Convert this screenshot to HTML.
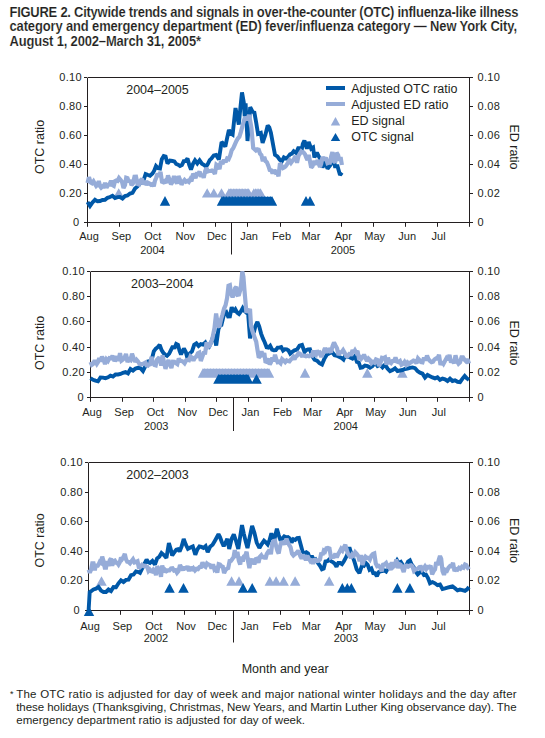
<!DOCTYPE html>
<html><head><meta charset="utf-8"><title>Figure 2</title>
<style>
html,body{margin:0;padding:0;background:#fff;}
body{width:545px;height:738px;position:relative;overflow:hidden;font-family:"Liberation Sans",sans-serif;}
</style></head><body>
<svg width="545" height="738" viewBox="0 0 545 738" style="position:absolute;left:0;top:0">
<path d="M87.5,77.5 H469.5 M87.5,77.5 V222.5 H469.5 M469.5,77.5 V222.5" stroke="#231f20" stroke-width="1" fill="none" shape-rendering="crispEdges"/>
<path d="M84.0,77.5 H87.5 M469.5,77.5 H473.0" stroke="#231f20" stroke-width="1"/>
<path d="M84.0,106.5 H87.5 M469.5,106.5 H473.0" stroke="#231f20" stroke-width="1"/>
<path d="M84.0,135.5 H87.5 M469.5,135.5 H473.0" stroke="#231f20" stroke-width="1"/>
<path d="M84.0,164.5 H87.5 M469.5,164.5 H473.0" stroke="#231f20" stroke-width="1"/>
<path d="M84.0,193.5 H87.5 M469.5,193.5 H473.0" stroke="#231f20" stroke-width="1"/>
<path d="M84.0,222.5 H87.5 M469.5,222.5 H473.0" stroke="#231f20" stroke-width="1"/>
<path d="M87.5,222.5 V226.8" stroke="#231f20" stroke-width="1"/>
<path d="M119.5,222.5 V226.8" stroke="#231f20" stroke-width="1"/>
<path d="M151.5,222.5 V226.8" stroke="#231f20" stroke-width="1"/>
<path d="M183.5,222.5 V226.8" stroke="#231f20" stroke-width="1"/>
<path d="M215.5,222.5 V226.8" stroke="#231f20" stroke-width="1"/>
<path d="M247.5,222.5 V226.8" stroke="#231f20" stroke-width="1"/>
<path d="M280.5,222.5 V226.8" stroke="#231f20" stroke-width="1"/>
<path d="M309.5,222.5 V226.8" stroke="#231f20" stroke-width="1"/>
<path d="M341.5,222.5 V226.8" stroke="#231f20" stroke-width="1"/>
<path d="M373.5,222.5 V226.8" stroke="#231f20" stroke-width="1"/>
<path d="M405.5,222.5 V226.8" stroke="#231f20" stroke-width="1"/>
<path d="M437.5,222.5 V226.8" stroke="#231f20" stroke-width="1"/>
<path d="M469.5,222.5 V226.8" stroke="#231f20" stroke-width="1"/>
<path d="M231.5,222.5 V254.5" stroke="#231f20" stroke-width="1"/>
<path d="M113.5,197.4 L118.7,188.2 L124.0,197.4 Z M201.9,197.4 L207.2,188.2 L212.4,197.4 Z M208.6,197.4 L213.8,188.2 L219.1,197.4 Z M216.2,197.4 L221.5,188.2 L226.8,197.4 Z M223.7,197.4 L228.9,188.2 L234.2,197.4 Z M225.2,197.4 L230.4,188.2 L235.7,197.4 Z M226.7,197.4 L231.9,188.2 L237.2,197.4 Z M228.2,197.4 L233.5,188.2 L238.7,197.4 Z M229.7,197.4 L235.0,188.2 L240.2,197.4 Z M231.3,197.4 L236.5,188.2 L241.8,197.4 Z M232.8,197.4 L238.0,188.2 L243.3,197.4 Z M234.3,197.4 L239.6,188.2 L244.8,197.4 Z M235.8,197.4 L241.1,188.2 L246.3,197.4 Z M237.4,197.4 L242.6,188.2 L247.9,197.4 Z M238.9,197.4 L244.1,188.2 L249.4,197.4 Z M240.4,197.4 L245.7,188.2 L250.9,197.4 Z M241.9,197.4 L247.2,188.2 L252.4,197.4 Z M243.4,197.4 L248.7,188.2 L253.9,197.4 Z M248.6,197.4 L253.8,188.2 L259.1,197.4 Z M250.2,197.4 L255.5,188.2 L260.7,197.4 Z M251.9,197.4 L257.1,188.2 L262.4,197.4 Z M253.6,197.4 L258.8,188.2 L264.1,197.4 Z M255.2,197.4 L260.5,188.2 L265.8,197.4 Z" fill="#96acd8"/>
<path d="M159.8,205.8 L165.0,196.0 L170.2,205.8 Z M216.8,205.8 L222.0,196.0 L227.2,205.8 Z M218.3,205.8 L223.5,196.0 L228.8,205.8 Z M219.8,205.8 L225.0,196.0 L230.3,205.8 Z M221.3,205.8 L226.5,196.0 L231.8,205.8 Z M222.8,205.8 L228.1,196.0 L233.3,205.8 Z M224.3,205.8 L229.6,196.0 L234.8,205.8 Z M225.8,205.8 L231.1,196.0 L236.3,205.8 Z M227.4,205.8 L232.6,196.0 L237.9,205.8 Z M228.9,205.8 L234.1,196.0 L239.4,205.8 Z M230.4,205.8 L235.6,196.0 L240.9,205.8 Z M231.9,205.8 L237.2,196.0 L242.4,205.8 Z M233.4,205.8 L238.7,196.0 L243.9,205.8 Z M234.9,205.8 L240.2,196.0 L245.4,205.8 Z M236.4,205.8 L241.7,196.0 L246.9,205.8 Z M238.0,205.8 L243.2,196.0 L248.5,205.8 Z M239.5,205.8 L244.7,196.0 L250.0,205.8 Z M241.0,205.8 L246.2,196.0 L251.5,205.8 Z M242.5,205.8 L247.8,196.0 L253.0,205.8 Z M244.0,205.8 L249.3,196.0 L254.5,205.8 Z M245.5,205.8 L250.8,196.0 L256.0,205.8 Z M247.1,205.8 L252.3,196.0 L257.6,205.8 Z M248.6,205.8 L253.8,196.0 L259.1,205.8 Z M250.1,205.8 L255.3,196.0 L260.6,205.8 Z M251.6,205.8 L256.8,196.0 L262.1,205.8 Z M253.1,205.8 L258.4,196.0 L263.6,205.8 Z M254.6,205.8 L259.9,196.0 L265.1,205.8 Z M256.1,205.8 L261.4,196.0 L266.6,205.8 Z M257.7,205.8 L262.9,196.0 L268.2,205.8 Z M259.2,205.8 L264.4,196.0 L269.7,205.8 Z M260.7,205.8 L265.9,196.0 L271.2,205.8 Z M262.2,205.8 L267.5,196.0 L272.7,205.8 Z M263.7,205.8 L269.0,196.0 L274.2,205.8 Z M265.2,205.8 L270.5,196.0 L275.7,205.8 Z M266.8,205.8 L272.0,196.0 L277.2,205.8 Z M300.8,205.8 L306.0,196.0 L311.2,205.8 Z M304.8,205.8 L310.0,196.0 L315.2,205.8 Z" fill="#0058a8"/>

<path d="M87.5,202.0 L90.0,206.0 L92.5,202.4 L95.0,199.8 L97.5,201.3 L100.0,201.0 L102.5,200.0 L105.0,199.8 L107.5,197.8 L110.0,197.0 L112.5,195.8 L115.0,198.0 L117.5,197.1 L120.0,197.0 L122.5,198.5 L125.0,196.0 L127.5,195.5 L130.0,193.5 L132.5,192.9 L135.0,188.5 L137.5,186.4 L140.0,183.5 L141.9,182.0 L143.8,179.5 L145.6,174.0 L147.5,174.8 L150.0,175.7 L152.5,173.5 L154.2,170.7 L156.0,166.0 L158.0,168.1 L160.0,168.5 L161.8,159.2 L163.7,156.0 L165.6,156.6 L167.5,163.5 L170.0,160.6 L172.5,161.0 L174.4,161.4 L176.2,164.0 L178.1,164.7 L180.0,166.0 L181.9,165.1 L183.8,161.1 L185.6,160.9 L187.5,158.5 L189.2,164.8 L191.0,169.6 L193.0,163.8 L195.0,160.4 L197.3,163.5 L199.6,160.4 L201.9,163.7 L204.2,165.0 L206.0,166.7 L207.8,164.0 L209.7,160.1 L211.5,158.5 L213.8,155.4 L216.1,154.9 L218.9,159.4 L221.6,142.0 L223.4,143.7 L225.3,146.6 L227.1,138.1 L228.9,130.0 L230.8,133.5 L232.6,134.7 L235.5,108.0 L237.2,116.7 L238.8,124.5 L240.4,107.6 L242.0,92.4 L243.8,102.5 L244.7,116.3 L245.6,103.4 L247.5,141.0 L250.2,107.1 L252.5,111.7 L254.4,112.6 L256.2,122.7 L258.0,133.8 L260.8,132.8 L262.6,142.9 L265.4,134.7 L267.7,125.5 L269.3,127.4 L270.9,132.8 L273.6,147.5 L275.0,154.9 L277.4,156.4 L279.7,159.7 L281.8,161.5 L283.9,157.4 L286.0,158.5 L288.0,156.9 L290.0,154.4 L291.9,153.6 L293.7,151.2 L296.2,153.0 L298.7,146.9 L301.2,152.5 L302.8,143.9 L304.4,140.6 L306.9,148.7 L308.7,141.9 L311.2,148.7 L313.1,147.5 L314.4,157.5 L316.9,152.5 L318.4,155.7 L320.0,158.7 L322.5,167.5 L325.0,161.2 L327.5,168.7 L330.0,165.6 L331.6,163.3 L333.1,156.2 L335.0,166.2 L337.5,166.2 L340.0,175.0 L341.9,172.5" stroke="#0058a8" stroke-width="3.9" fill="none" stroke-linejoin="miter" stroke-miterlimit="2"/>
<path d="M87.5,183.0 L89.0,177.2 L90.5,182.4 L92.0,183.3 L93.5,181.3 L95.0,184.0 L96.2,186.0 L97.5,184.8 L98.8,181.1 L100.0,186.0 L101.2,187.7 L102.5,186.5 L103.8,186.6 L105.0,183.0 L106.5,187.7 L108.0,184.9 L109.5,184.6 L111.0,180.7 L112.5,185.0 L113.8,185.8 L115.0,181.2 L116.2,180.6 L117.5,181.0 L119.0,178.0 L120.5,179.7 L122.0,181.8 L123.5,188.1 L125.0,185.0 L126.2,177.7 L127.5,178.1 L128.8,182.0 L130.0,180.0 L131.5,185.1 L133.0,183.3 L134.5,176.7 L136.0,176.6 L137.5,184.0 L139.0,184.5 L140.5,180.6 L142.0,178.8 L143.5,184.5 L145.0,181.0 L146.5,184.9 L148.0,182.7 L149.5,183.5 L151.0,184.7 L152.5,184.0 L153.8,186.2 L155.0,180.6 L156.2,177.7 L157.5,173.5 L159.0,176.6 L160.5,171.8 L162.0,181.8 L163.5,182.4 L165.0,181.0 L166.5,182.8 L168.0,175.5 L169.5,179.7 L171.0,184.3 L172.5,182.0 L174.0,176.1 L175.5,180.5 L177.0,183.6 L178.5,176.1 L180.0,179.6 L181.5,184.7 L183.0,181.8 L184.5,180.0 L186.0,181.7 L187.5,181.0 L188.8,181.9 L190.2,179.4 L191.5,181.4 L192.8,175.0 L194.1,174.8 L195.5,178.1 L196.8,174.0 L198.2,174.1 L199.6,171.4 L200.9,176.8 L202.3,174.0 L203.7,177.7 L205.1,171.4 L206.4,167.9 L207.8,171.4 L209.2,171.0 L210.6,171.0 L211.9,170.5 L213.3,171.4 L214.9,173.8 L216.4,164.7 L218.0,165.9 L219.5,169.0 L221.0,160.8 L222.5,164.0 L224.0,159.8 L225.6,162.2 L227.1,158.5 L228.6,159.2 L230.2,155.6 L231.7,150.3 L233.2,148.3 L234.8,144.6 L236.3,141.1 L237.8,138.5 L239.4,136.7 L240.9,131.9 L243.0,124.0 L245.0,117.0 L247.0,120.0 L249.0,115.0 L250.2,120.8 L251.4,127.7 L253.2,147.9 L254.6,149.2 L255.9,150.5 L257.3,149.3 L258.7,149.7 L260.1,153.8 L261.4,155.0 L262.8,161.2 L264.2,157.0 L265.6,161.2 L266.9,162.2 L268.3,165.6 L269.7,170.0 L271.2,170.3 L272.6,173.5 L274.1,170.0 L275.5,172.5 L277.0,171.7 L278.5,176.3 L280.0,163.2 L281.5,165.6 L283.0,168.0 L284.2,167.4 L285.5,166.5 L286.8,164.7 L288.0,162.6 L289.5,160.4 L291.0,162.8 L292.5,160.7 L294.0,159.0 L295.5,156.0 L297.0,162.8 L298.5,155.9 L300.0,153.4 L301.2,151.4 L302.5,152.5 L303.7,152.5 L305.0,154.3 L306.2,157.3 L307.5,160.0 L308.8,155.0 L310.0,161.6 L311.2,167.7 L312.5,166.2 L313.8,161.1 L315.0,162.9 L316.2,164.4 L317.5,160.0 L318.7,163.8 L320.0,166.9 L321.2,163.7 L322.5,156.9 L323.7,159.3 L325.0,158.7 L326.2,158.9 L327.5,163.1 L328.7,162.5 L329.9,162.6 L331.2,156.2 L332.4,152.1 L333.7,161.2 L335.2,162.4 L336.6,152.7 L338.1,155.0 L339.4,160.4 L340.6,157.2 L341.9,165.0" stroke="#96acd8" stroke-width="4.2" fill="none" stroke-linejoin="miter" stroke-miterlimit="2"/>
<path d="M90.5,271.5 H469.5 M90.5,271.5 V397.5 H469.5 M469.5,271.5 V397.5" stroke="#231f20" stroke-width="1" fill="none" shape-rendering="crispEdges"/>
<path d="M87.0,271.5 H90.5 M469.5,271.5 H473.0" stroke="#231f20" stroke-width="1"/>
<path d="M87.0,296.5 H90.5 M469.5,296.5 H473.0" stroke="#231f20" stroke-width="1"/>
<path d="M87.0,321.5 H90.5 M469.5,321.5 H473.0" stroke="#231f20" stroke-width="1"/>
<path d="M87.0,347.5 H90.5 M469.5,347.5 H473.0" stroke="#231f20" stroke-width="1"/>
<path d="M87.0,372.5 H90.5 M469.5,372.5 H473.0" stroke="#231f20" stroke-width="1"/>
<path d="M87.0,397.5 H90.5 M469.5,397.5 H473.0" stroke="#231f20" stroke-width="1"/>
<path d="M90.5,397.5 V401.8" stroke="#231f20" stroke-width="1"/>
<path d="M122.5,397.5 V401.8" stroke="#231f20" stroke-width="1"/>
<path d="M153.5,397.5 V401.8" stroke="#231f20" stroke-width="1"/>
<path d="M185.5,397.5 V401.8" stroke="#231f20" stroke-width="1"/>
<path d="M216.5,397.5 V401.8" stroke="#231f20" stroke-width="1"/>
<path d="M248.5,397.5 V401.8" stroke="#231f20" stroke-width="1"/>
<path d="M281.5,397.5 V401.8" stroke="#231f20" stroke-width="1"/>
<path d="M311.5,397.5 V401.8" stroke="#231f20" stroke-width="1"/>
<path d="M343.5,397.5 V401.8" stroke="#231f20" stroke-width="1"/>
<path d="M374.5,397.5 V401.8" stroke="#231f20" stroke-width="1"/>
<path d="M406.5,397.5 V401.8" stroke="#231f20" stroke-width="1"/>
<path d="M437.5,397.5 V401.8" stroke="#231f20" stroke-width="1"/>
<path d="M469.5,397.5 V401.8" stroke="#231f20" stroke-width="1"/>
<path d="M233.5,397.5 V431.0" stroke="#231f20" stroke-width="1"/>
<path d="M197.8,377.7 L203.0,368.0 L208.2,377.7 Z M199.2,377.7 L204.5,368.0 L209.8,377.7 Z M200.8,377.7 L206.0,368.0 L211.2,377.7 Z M202.2,377.7 L207.5,368.0 L212.8,377.7 Z M203.8,377.7 L209.0,368.0 L214.2,377.7 Z M205.2,377.7 L210.5,368.0 L215.8,377.7 Z M206.8,377.7 L212.0,368.0 L217.2,377.7 Z M208.2,377.7 L213.5,368.0 L218.8,377.7 Z M209.8,377.7 L215.0,368.0 L220.2,377.7 Z M211.2,377.7 L216.5,368.0 L221.8,377.7 Z M212.8,377.7 L218.0,368.0 L223.2,377.7 Z M214.2,377.7 L219.5,368.0 L224.8,377.7 Z M215.8,377.7 L221.0,368.0 L226.2,377.7 Z M217.2,377.7 L222.5,368.0 L227.8,377.7 Z M218.8,377.7 L224.0,368.0 L229.2,377.7 Z M220.2,377.7 L225.5,368.0 L230.8,377.7 Z M221.8,377.7 L227.0,368.0 L232.2,377.7 Z M223.2,377.7 L228.5,368.0 L233.8,377.7 Z M224.8,377.7 L230.0,368.0 L235.2,377.7 Z M226.2,377.7 L231.5,368.0 L236.8,377.7 Z M227.8,377.7 L233.0,368.0 L238.2,377.7 Z M229.2,377.7 L234.5,368.0 L239.8,377.7 Z M230.8,377.7 L236.0,368.0 L241.2,377.7 Z M232.2,377.7 L237.5,368.0 L242.8,377.7 Z M233.8,377.7 L239.0,368.0 L244.2,377.7 Z M235.2,377.7 L240.5,368.0 L245.8,377.7 Z M236.8,377.7 L242.0,368.0 L247.2,377.7 Z M238.2,377.7 L243.5,368.0 L248.8,377.7 Z M239.8,377.7 L245.0,368.0 L250.2,377.7 Z M241.2,377.7 L246.5,368.0 L251.8,377.7 Z M242.8,377.7 L248.0,368.0 L253.2,377.7 Z M244.2,377.7 L249.5,368.0 L254.8,377.7 Z M245.8,377.7 L251.0,368.0 L256.2,377.7 Z M247.2,377.7 L252.5,368.0 L257.8,377.7 Z M248.8,377.7 L254.0,368.0 L259.2,377.7 Z M250.2,377.7 L255.5,368.0 L260.8,377.7 Z M251.8,377.7 L257.0,368.0 L262.2,377.7 Z M253.2,377.7 L258.5,368.0 L263.8,377.7 Z M254.8,377.7 L260.0,368.0 L265.2,377.7 Z M256.2,377.7 L261.5,368.0 L266.8,377.7 Z M257.8,377.7 L263.0,368.0 L268.2,377.7 Z M259.2,377.7 L264.5,368.0 L269.8,377.7 Z M260.8,377.7 L266.0,368.0 L271.2,377.7 Z M262.2,377.7 L267.5,368.0 L272.8,377.7 Z M263.8,377.7 L269.0,368.0 L274.2,377.7 Z M299.8,377.7 L305.0,368.0 L310.2,377.7 Z M362.1,377.7 L367.3,368.0 L372.6,377.7 Z M397.1,377.7 L402.3,368.0 L407.6,377.7 Z" fill="#96acd8"/>
<path d="M213.2,383.7 L218.5,374.0 L223.8,383.7 Z M214.7,383.7 L220.0,374.0 L225.2,383.7 Z M216.2,383.7 L221.4,374.0 L226.7,383.7 Z M217.7,383.7 L222.9,374.0 L228.2,383.7 Z M219.2,383.7 L224.4,374.0 L229.7,383.7 Z M220.6,383.7 L225.9,374.0 L231.1,383.7 Z M222.1,383.7 L227.3,374.0 L232.6,383.7 Z M223.6,383.7 L228.8,374.0 L234.1,383.7 Z M225.1,383.7 L230.3,374.0 L235.6,383.7 Z M226.5,383.7 L231.8,374.0 L237.0,383.7 Z M228.0,383.7 L233.2,374.0 L238.5,383.7 Z M229.5,383.7 L234.7,374.0 L240.0,383.7 Z M230.9,383.7 L236.2,374.0 L241.4,383.7 Z M232.4,383.7 L237.7,374.0 L242.9,383.7 Z M233.9,383.7 L239.2,374.0 L244.4,383.7 Z M235.4,383.7 L240.6,374.0 L245.9,383.7 Z M236.8,383.7 L242.1,374.0 L247.3,383.7 Z M238.3,383.7 L243.6,374.0 L248.8,383.7 Z M239.8,383.7 L245.1,374.0 L250.3,383.7 Z M241.3,383.7 L246.5,374.0 L251.8,383.7 Z M242.8,383.7 L248.0,374.0 L253.2,383.7 Z M251.2,383.7 L256.5,374.0 L261.8,383.7 Z" fill="#0058a8"/>

<path d="M90.5,378.2 L93.0,379.8 L95.5,380.7 L98.0,381.3 L100.5,377.5 L103.0,377.6 L105.5,378.2 L108.0,377.3 L110.5,375.7 L113.0,376.5 L115.5,374.5 L118.0,374.5 L120.5,374.0 L123.0,372.8 L125.5,372.0 L128.0,373.3 L130.5,369.0 L133.0,370.6 L135.5,368.5 L138.0,367.8 L140.5,368.2 L143.0,371.1 L145.5,366.0 L148.0,361.4 L150.5,361.0 L152.2,357.8 L153.8,351.4 L155.8,348.7 L157.7,347.2 L159.7,344.8 L161.6,350.1 L163.4,352.9 L165.2,354.7 L167.0,355.8 L169.2,353.6 L171.4,349.2 L172.9,346.1 L174.4,348.5 L176.2,343.9 L178.0,344.8 L179.5,350.7 L181.0,354.4 L183.9,348.5 L185.8,351.9 L187.6,358.8 L189.8,353.3 L192.0,351.4 L194.2,344.8 L196.4,343.4 L198.6,346.0 L200.8,344.1 L203.0,344.7 L205.2,342.6 L206.7,346.3 L208.9,347.1 L211.1,342.6 L214.0,333.8 L216.2,345.6 L218.4,329.4 L219.9,325.5 L221.4,325.0 L222.9,318.9 L224.4,312.7 L226.2,311.9 L228.1,316.5 L229.9,316.4 L231.7,307.2 L233.5,311.9 L235.4,309.3 L237.2,312.7 L239.0,314.0 L240.9,311.4 L242.7,308.1 L244.5,310.9 L246.3,312.4 L248.2,314.5 L250.0,338.4 L251.8,330.7 L253.7,332.7 L255.5,325.9 L257.4,321.9 L259.2,326.3 L261.1,333.6 L262.9,338.4 L264.7,342.2 L266.6,347.2 L268.4,347.6 L270.2,345.8 L272.1,349.6 L273.9,350.3 L275.8,350.2 L277.6,347.6 L279.4,347.6 L281.2,347.0 L283.1,350.5 L284.9,349.2 L286.7,349.4 L288.5,350.5 L290.2,353.7 L292.0,352.0 L294.5,350.3 L297.0,349.5 L299.5,345.7 L302.0,344.9 L304.5,352.0 L306.2,350.1 L308.0,349.5 L310.0,349.3 L312.0,355.7 L314.5,359.7 L317.0,360.7 L319.5,363.2 L322.0,364.5 L324.5,358.4 L327.0,354.5 L329.5,353.2 L332.0,352.0 L334.5,355.3 L337.0,355.7 L339.5,357.1 L342.0,358.2 L343.5,359.5 L345.0,356.0 L347.5,356.6 L350.0,357.5 L352.5,358.6 L355.0,356.0 L356.9,361.9 L358.7,362.4 L360.6,367.8 L362.5,367.4 L365.0,365.5 L367.5,366.0 L370.0,367.6 L372.5,366.0 L375.0,362.6 L377.5,366.0 L380.0,364.7 L382.5,367.4 L385.0,364.5 L387.5,368.6 L390.0,371.2 L392.5,370.0 L395.0,368.3 L397.5,371.0 L400.0,370.5 L402.5,370.0 L405.0,369.0 L407.5,368.6 L410.0,367.9 L412.5,367.4 L415.0,368.1 L417.5,371.0 L420.0,372.7 L422.5,373.6 L425.0,377.5 L427.5,374.9 L430.0,376.2 L432.5,377.4 L435.0,378.4 L437.5,377.4 L440.0,379.8 L442.5,378.6 L445.0,379.4 L447.5,381.0 L450.0,378.7 L452.5,381.0 L455.0,380.4 L457.5,381.8 L460.0,382.1 L462.5,378.6 L464.7,376.0 L466.8,378.3 L469.0,379.8" stroke="#0058a8" stroke-width="3.9" fill="none" stroke-linejoin="miter" stroke-miterlimit="2"/>
<path d="M90.5,362.0 L91.8,364.9 L93.0,364.1 L94.2,361.6 L95.5,361.5 L96.8,363.9 L98.0,362.0 L99.2,358.0 L100.5,361.5 L102.0,356.7 L103.5,359.4 L105.0,364.0 L106.5,359.4 L108.0,361.0 L109.5,358.1 L111.0,358.3 L112.5,355.8 L114.0,359.8 L115.5,360.0 L117.0,356.4 L118.5,360.9 L120.0,353.1 L121.5,360.6 L123.0,359.5 L124.5,357.7 L126.0,353.9 L127.5,362.0 L129.0,359.1 L130.5,360.0 L132.0,353.7 L133.5,358.0 L135.0,361.8 L136.5,359.8 L138.0,361.5 L139.5,364.0 L141.0,364.1 L142.5,364.1 L144.0,363.3 L145.5,362.5 L147.0,366.6 L148.5,364.8 L150.0,364.3 L151.5,356.8 L153.0,363.2 L154.3,365.0 L155.7,365.4 L157.0,359.7 L158.4,358.3 L159.7,358.8 L161.2,365.5 L162.6,355.3 L164.1,362.8 L165.5,368.9 L167.0,363.2 L168.5,360.1 L170.0,364.7 L171.4,368.0 L172.9,361.6 L174.4,361.7 L175.9,363.2 L177.3,364.1 L178.8,358.6 L180.2,360.9 L181.7,361.0 L183.2,361.7 L184.6,363.2 L186.1,360.4 L187.5,359.8 L189.0,360.2 L190.5,356.4 L192.0,357.7 L193.4,360.7 L194.9,357.6 L196.4,356.6 L197.9,353.3 L199.3,352.6 L200.8,361.0 L202.2,357.1 L203.7,352.9 L205.2,352.8 L206.6,342.4 L208.1,347.0 L209.6,345.9 L211.0,342.6 L212.5,338.2 L214.5,328.0 L216.1,313.6 L217.9,325.6 L219.4,327.0 L221.0,319.5 L222.5,314.5 L224.0,308.8 L225.6,305.1 L227.1,298.0 L228.5,285.8 L229.9,285.2 L231.2,294.2 L232.6,297.1 L233.8,294.7 L235.1,288.3 L236.3,287.0 L237.7,294.7 L239.0,294.4 L240.7,288.4 L242.3,271.5 L243.4,276.9 L244.5,290.7 L246.4,312.7 L247.6,309.5 L248.8,311.1 L250.0,309.0 L251.0,325.6 L252.3,330.7 L253.7,334.7 L254.9,338.4 L256.2,341.6 L257.4,349.4 L258.8,357.6 L260.1,356.2 L261.5,351.3 L262.9,356.7 L264.3,353.1 L265.6,362.8 L267.0,361.1 L268.4,358.6 L269.7,364.6 L271.0,362.1 L272.3,357.5 L273.7,361.4 L275.0,354.7 L276.3,359.4 L277.6,362.2 L279.1,361.7 L280.6,363.2 L282.1,359.1 L283.7,360.6 L285.2,362.1 L286.7,360.4 L288.0,361.1 L289.4,361.4 L290.7,359.7 L292.0,358.6 L293.2,356.9 L294.5,359.5 L295.8,356.6 L297.0,355.7 L298.5,353.2 L300.0,353.8 L301.5,355.7 L303.0,355.4 L304.5,355.7 L306.0,356.2 L307.5,355.7 L309.0,356.2 L310.5,355.3 L312.0,355.7 L313.2,350.6 L314.5,354.4 L315.8,355.0 L317.0,350.5 L318.2,353.1 L319.5,352.5 L320.8,355.7 L322.0,355.7 L323.5,351.8 L325.0,347.9 L326.5,352.8 L328.0,348.7 L329.5,350.5 L331.0,352.3 L332.5,346.3 L334.0,342.5 L335.5,345.5 L337.0,348.2 L338.5,355.0 L340.0,352.4 L341.6,352.2 L343.1,350.1 L344.6,352.8 L346.2,356.0 L347.5,356.4 L348.7,355.1 L350.0,352.9 L351.2,355.7 L352.5,350.0 L353.8,352.4 L355.0,350.4 L356.2,352.5 L357.5,351.0 L358.8,357.6 L360.0,357.1 L361.2,358.9 L362.5,357.4 L364.0,354.7 L365.5,358.0 L367.0,361.1 L368.5,358.6 L370.0,360.0 L371.5,363.2 L373.0,361.8 L374.5,362.7 L376.0,359.4 L377.5,360.0 L379.0,366.1 L380.5,362.7 L382.0,357.8 L383.5,358.2 L385.0,357.4 L386.5,364.7 L388.0,357.8 L389.5,362.2 L391.0,363.2 L392.5,361.0 L394.0,361.0 L395.5,357.5 L397.0,361.6 L398.5,362.1 L400.0,361.0 L401.5,364.7 L403.0,363.9 L404.5,361.9 L406.0,364.7 L407.5,362.4 L409.0,363.7 L410.5,362.5 L412.0,361.7 L413.5,360.5 L415.0,361.0 L416.5,363.3 L418.0,358.4 L419.5,360.0 L421.0,362.1 L422.5,362.4 L424.0,357.7 L425.5,360.5 L427.0,355.5 L428.5,359.2 L430.0,361.0 L431.5,362.2 L433.0,361.7 L434.5,359.4 L436.0,358.4 L437.5,358.6 L439.0,354.8 L440.5,365.0 L442.0,361.6 L443.5,363.8 L445.0,361.0 L446.5,358.2 L448.0,360.0 L449.5,354.9 L451.0,362.5 L452.5,360.0 L454.0,363.3 L455.5,355.3 L457.0,361.3 L458.5,363.8 L460.0,362.4 L461.5,357.3 L463.0,357.3 L464.5,359.8 L466.0,361.3 L467.5,359.2 L469.0,363.6" stroke="#96acd8" stroke-width="4.2" fill="none" stroke-linejoin="miter" stroke-miterlimit="2"/>
<path d="M88.5,462.5 H469.5 M88.5,462.5 V610.5 H469.5 M469.5,462.5 V610.5" stroke="#231f20" stroke-width="1" fill="none" shape-rendering="crispEdges"/>
<path d="M85.0,462.5 H88.5 M469.5,462.5 H473.0" stroke="#231f20" stroke-width="1"/>
<path d="M85.0,492.5 H88.5 M469.5,492.5 H473.0" stroke="#231f20" stroke-width="1"/>
<path d="M85.0,521.5 H88.5 M469.5,521.5 H473.0" stroke="#231f20" stroke-width="1"/>
<path d="M85.0,551.5 H88.5 M469.5,551.5 H473.0" stroke="#231f20" stroke-width="1"/>
<path d="M85.0,580.5 H88.5 M469.5,580.5 H473.0" stroke="#231f20" stroke-width="1"/>
<path d="M85.0,610.5 H88.5 M469.5,610.5 H473.0" stroke="#231f20" stroke-width="1"/>
<path d="M88.5,610.5 V614.8" stroke="#231f20" stroke-width="1"/>
<path d="M120.5,610.5 V614.8" stroke="#231f20" stroke-width="1"/>
<path d="M152.5,610.5 V614.8" stroke="#231f20" stroke-width="1"/>
<path d="M184.5,610.5 V614.8" stroke="#231f20" stroke-width="1"/>
<path d="M215.5,610.5 V614.8" stroke="#231f20" stroke-width="1"/>
<path d="M248.5,610.5 V614.8" stroke="#231f20" stroke-width="1"/>
<path d="M280.5,610.5 V614.8" stroke="#231f20" stroke-width="1"/>
<path d="M309.5,610.5 V614.8" stroke="#231f20" stroke-width="1"/>
<path d="M342.5,610.5 V614.8" stroke="#231f20" stroke-width="1"/>
<path d="M373.5,610.5 V614.8" stroke="#231f20" stroke-width="1"/>
<path d="M405.5,610.5 V614.8" stroke="#231f20" stroke-width="1"/>
<path d="M437.5,610.5 V614.8" stroke="#231f20" stroke-width="1"/>
<path d="M469.5,610.5 V614.8" stroke="#231f20" stroke-width="1"/>
<path d="M233.5,610.5 V642.5" stroke="#231f20" stroke-width="1"/>
<path d="M96.2,585.8 L101.5,576.3 L106.8,585.8 Z M226.3,585.8 L231.6,576.3 L236.8,585.8 Z M233.8,585.8 L239.0,576.3 L244.2,585.8 Z M264.6,585.8 L269.8,576.3 L275.1,585.8 Z M270.9,585.8 L276.1,576.3 L281.4,585.8 Z M278.4,585.8 L283.6,576.3 L288.9,585.8 Z M289.9,585.8 L295.1,576.3 L300.4,585.8 Z M323.9,585.8 L329.2,576.3 L334.4,585.8 Z" fill="#96acd8"/>
<path d="M164.3,592.7 L169.6,583.0 L174.8,592.7 Z M178.2,592.7 L183.5,583.0 L188.8,592.7 Z M237.8,592.7 L243.1,583.0 L248.3,592.7 Z M246.9,592.7 L252.2,583.0 L257.4,592.7 Z M337.1,592.7 L342.3,583.0 L347.6,592.7 Z M342.1,592.7 L347.3,583.0 L352.6,592.7 Z M346.1,592.7 L351.4,583.0 L356.6,592.7 Z M392.1,592.7 L397.4,583.0 L402.6,592.7 Z M404.6,592.7 L409.9,583.0 L415.1,592.7 Z" fill="#0058a8"/>
<path d="M83.8,616.0 L89.0,606.5 L94.2,616.0 Z" fill="#0058a8"/>
<path d="M88.6,610.5 L89.7,592.0 L91.6,590.8 L93.5,589.5 L96.0,588.7 L98.5,587.0 L101.0,590.6 L103.5,592.0 L106.0,592.0 L108.5,589.5 L111.0,591.0 L113.5,587.0 L116.0,587.2 L118.5,583.3 L121.0,580.3 L123.5,582.0 L126.0,579.9 L128.5,579.6 L131.0,575.2 L133.5,574.6 L136.0,571.4 L138.5,572.0 L140.0,572.8 L142.2,568.3 L144.4,564.0 L146.6,559.6 L148.3,562.2 L150.0,563.0 L152.4,560.9 L154.9,564.6 L157.1,558.5 L159.3,556.8 L161.5,553.0 L163.9,555.1 L166.4,558.0 L168.9,543.1 L170.6,548.7 L172.2,555.5 L174.2,552.5 L176.3,549.7 L177.9,549.2 L179.6,551.4 L181.6,546.5 L183.7,539.0 L185.8,544.6 L187.9,548.9 L190.4,547.5 L192.8,546.4 L195.3,554.7 L197.4,549.3 L199.4,546.4 L201.4,546.9 L203.5,548.0 L205.6,546.1 L207.7,552.2 L210.1,546.7 L212.6,544.8 L214.8,541.0 L217.0,537.0 L218.5,534.3 L220.0,537.0 L221.8,542.0 L223.7,546.2 L225.5,542.8 L227.3,538.9 L229.2,549.0 L231.5,539.2 L233.8,534.3 L236.1,541.2 L238.3,549.0 L240.2,536.5 L242.0,525.1 L243.8,533.6 L245.7,541.5 L247.5,548.0 L249.8,536.9 L252.1,526.0 L254.4,532.7 L256.7,542.5 L259.4,548.0 L261.7,544.1 L264.0,540.7 L265.9,542.4 L267.7,544.4 L269.5,540.2 L271.4,533.3 L274.1,540.7 L276.9,528.8 L278.8,535.3 L280.6,540.7 L282.4,538.5 L284.2,536.4 L286.1,537.3 L287.9,537.0 L289.8,538.4 L291.6,542.5 L293.4,539.3 L295.2,540.0 L297.1,538.2 L298.9,537.9 L300.8,545.0 L302.6,551.7 L304.4,553.2 L306.3,552.2 L308.1,553.5 L309.9,558.8 L311.8,555.7 L313.6,559.6 L315.4,559.0 L317.7,562.6 L320.0,565.8 L321.9,569.2 L323.7,568.5 L325.5,561.5 L327.4,561.1 L329.2,559.4 L331.0,561.2 L332.8,562.1 L334.6,563.5 L336.5,566.7 L338.3,563.0 L340.2,563.0 L342.0,564.1 L343.9,561.2 L345.7,558.0 L347.6,553.7 L349.4,547.4 L351.2,553.4 L353.0,557.5 L354.9,563.2 L356.7,569.4 L359.4,573.1 L362.2,564.9 L364.0,565.8 L365.9,563.0 L367.7,564.9 L369.5,569.8 L371.4,568.5 L373.2,573.1 L375.0,573.2 L376.9,576.3 L378.7,572.2 L380.5,571.2 L382.4,571.0 L384.2,570.4 L386.1,571.6 L387.9,568.6 L389.8,566.2 L391.6,566.7 L393.4,565.0 L395.3,563.5 L397.1,560.3 L398.9,563.1 L400.8,562.0 L402.6,564.9 L404.4,566.9 L406.2,565.6 L408.1,561.5 L409.9,560.3 L411.7,564.5 L413.6,566.9 L415.4,571.3 L417.7,574.3 L420.0,572.2 L422.0,571.7 L424.0,575.0 L426.0,574.6 L428.0,578.1 L430.0,583.3 L432.5,582.1 L435.0,583.3 L437.5,585.2 L440.0,584.6 L442.5,588.9 L445.0,588.3 L447.5,587.6 L450.0,587.0 L452.5,586.4 L455.0,588.3 L457.5,590.4 L460.0,589.6 L462.5,590.1 L465.0,590.8 L467.0,589.5 L469.0,587.0" stroke="#0058a8" stroke-width="3.9" fill="none" stroke-linejoin="miter" stroke-miterlimit="2"/>
<path d="M88.6,569.6 L89.8,572.6 L91.0,569.9 L92.3,563.4 L93.5,563.4 L94.8,570.3 L96.0,564.0 L97.2,566.7 L98.5,564.6 L99.8,561.8 L101.0,562.7 L102.2,556.7 L103.5,561.0 L104.8,567.6 L106.0,567.6 L107.2,561.1 L108.5,566.0 L109.8,560.2 L111.0,558.6 L112.2,565.8 L113.5,561.0 L114.8,560.5 L116.0,562.6 L117.2,562.8 L118.5,564.6 L119.8,562.3 L121.0,557.5 L122.2,559.0 L123.5,557.0 L124.8,553.9 L126.0,559.3 L127.2,561.7 L128.5,562.0 L130.0,563.4 L131.5,561.3 L133.0,559.3 L134.5,562.5 L136.0,562.0 L137.5,561.3 L139.0,568.3 L140.5,566.7 L142.0,564.9 L143.5,566.0 L144.8,565.8 L146.0,566.4 L147.2,566.9 L148.5,571.0 L149.8,569.6 L151.0,571.2 L152.2,571.5 L153.5,569.6 L154.8,571.0 L156.0,575.3 L157.2,566.6 L158.5,568.4 L159.8,569.3 L161.0,576.8 L162.2,565.5 L163.5,572.0 L165.0,569.7 L166.5,571.1 L168.0,570.3 L169.5,570.3 L171.0,568.4 L172.5,568.2 L174.0,570.5 L175.5,570.1 L177.0,572.8 L178.5,571.0 L180.0,565.0 L181.5,567.8 L183.0,570.2 L184.5,566.8 L186.0,569.6 L187.5,566.2 L189.0,571.0 L190.5,566.9 L192.0,570.5 L193.5,568.4 L195.0,570.4 L196.5,568.8 L198.0,569.1 L199.5,567.0 L201.0,567.0 L202.5,562.3 L204.0,565.9 L205.5,566.9 L207.0,563.5 L208.5,564.6 L210.0,565.1 L211.5,568.4 L213.0,564.2 L214.5,569.6 L216.0,568.4 L217.3,572.7 L218.7,564.1 L220.0,564.5 L221.4,566.3 L222.8,566.8 L224.1,573.2 L225.5,570.0 L226.9,568.7 L228.2,568.1 L229.6,561.1 L231.0,560.9 L232.3,559.0 L233.6,557.2 L234.8,550.1 L236.1,557.9 L237.4,551.7 L238.8,560.8 L240.2,564.5 L241.5,556.7 L242.8,561.6 L244.0,556.4 L245.3,555.6 L246.6,551.7 L248.0,561.0 L249.4,568.2 L250.6,560.6 L251.8,561.4 L253.0,559.0 L254.4,564.4 L255.8,559.1 L257.1,558.7 L258.5,562.7 L259.9,556.8 L261.2,555.4 L262.6,558.2 L264.0,555.4 L265.4,559.1 L266.8,553.9 L268.1,552.0 L269.5,549.9 L270.9,554.2 L272.2,543.7 L273.6,541.0 L275.0,540.7 L276.2,546.6 L277.5,550.9 L278.7,553.5 L279.9,546.8 L281.2,542.7 L282.4,542.5 L283.8,543.4 L285.1,543.2 L286.5,538.6 L287.9,542.5 L289.3,545.1 L290.6,547.3 L292.0,553.6 L293.4,555.4 L294.8,554.1 L296.1,553.3 L297.5,551.6 L298.9,551.7 L300.3,556.2 L301.6,558.6 L303.0,554.7 L304.4,557.2 L305.9,560.1 L307.3,555.6 L308.8,558.5 L310.2,560.9 L311.7,559.0 L313.0,564.0 L314.4,558.9 L315.7,560.3 L317.0,561.0 L318.5,560.8 L320.0,559.4 L321.3,552.7 L322.6,555.0 L323.8,550.7 L325.1,551.6 L326.4,548.3 L327.9,548.0 L329.5,548.5 L331.0,557.5 L332.5,556.9 L333.9,556.8 L335.4,553.7 L336.8,557.3 L338.3,553.9 L339.7,551.5 L341.1,548.8 L342.5,550.5 L343.9,547.4 L345.3,544.8 L346.6,549.5 L348.0,553.6 L349.4,555.7 L350.9,557.9 L352.3,554.5 L353.8,555.5 L355.2,552.3 L356.7,553.9 L358.2,555.9 L359.6,561.1 L361.1,555.1 L362.5,564.9 L364.0,559.4 L365.5,556.7 L367.0,558.0 L368.4,557.7 L369.9,559.5 L371.4,555.7 L372.9,554.0 L374.3,553.4 L375.8,563.6 L377.2,566.2 L378.7,565.8 L380.2,567.1 L381.7,571.3 L383.1,564.7 L384.6,564.3 L386.1,563.0 L387.6,566.5 L389.0,565.6 L390.5,570.2 L391.9,562.2 L393.4,566.7 L394.9,565.2 L396.3,559.4 L397.8,568.1 L399.2,564.1 L400.7,564.9 L402.2,568.0 L403.7,572.1 L405.1,566.0 L406.6,565.6 L408.1,566.7 L409.6,565.7 L411.0,565.3 L412.5,566.4 L413.9,570.8 L415.4,569.4 L416.8,568.9 L418.2,568.4 L419.6,567.1 L421.0,567.0 L422.3,569.7 L423.6,568.5 L424.9,566.6 L426.2,569.0 L427.5,567.0 L429.1,567.5 L430.6,565.5 L432.1,574.4 L433.7,571.0 L435.0,569.4 L436.2,562.1 L437.5,565.2 L438.7,560.0 L440.0,556.0 L441.2,558.8 L442.5,571.0 L444.0,574.8 L445.5,570.0 L447.0,570.7 L448.5,567.6 L450.0,566.0 L451.5,566.3 L453.0,562.8 L454.5,571.1 L456.0,569.0 L457.5,569.6 L459.0,567.7 L460.5,568.7 L462.0,566.8 L463.5,567.6 L465.0,564.6 L466.3,565.2 L467.7,567.8 L469.0,569.6" stroke="#96acd8" stroke-width="4.2" fill="none" stroke-linejoin="miter" stroke-miterlimit="2"/><rect x="326" y="86" width="19" height="4" fill="#0058a8"/>
<rect x="326" y="102" width="19" height="4" fill="#96acd8"/>
<path d="M330.8,125.5 L335.5,117.0 L340.2,125.5 Z" fill="#96acd8"/>
<path d="M330.8,141.0 L335.5,133.0 L340.2,141.0 Z" fill="#0058a8"/>
</svg>
<svg width="545" height="738" viewBox="0 0 545 738" style="position:absolute;left:0;top:0" font-family="Liberation Sans, sans-serif" fill="#231f20">
<text x="0" y="16.6" font-size="14.4" font-weight="bold" transform="translate(9.5,0) scale(0.9,1)" textLength="565.6" lengthAdjust="spacing" stroke="#fff" stroke-width="0.15">FIGURE 2. Citywide trends and signals in over-the-counter (OTC) influenza-like illness</text>
<text x="0" y="31.5" font-size="14.4" font-weight="bold" transform="translate(9.5,0) scale(0.9,1)" textLength="563.9" lengthAdjust="spacing" stroke="#fff" stroke-width="0.15">category and emergency department (ED) fever/influenza category — New York City,</text>
<text x="0" y="46.4" font-size="14.4" font-weight="bold" transform="translate(9.5,0) scale(0.9,1)" textLength="212.8" lengthAdjust="spacing" stroke="#fff" stroke-width="0.15">August 1, 2002–March 31, 2005*</text>
<text x="81.6" y="81.0" font-size="11" text-anchor="end" font-weight="normal" letter-spacing="0" textLength="22.3" lengthAdjust="spacing">0.10</text>
<text x="477.5" y="81.0" font-size="11" text-anchor="start" font-weight="normal" letter-spacing="0" textLength="22.3" lengthAdjust="spacing">0.10</text>
<text x="81.6" y="110.0" font-size="11" text-anchor="end" font-weight="normal" letter-spacing="0" textLength="22.3" lengthAdjust="spacing">0.80</text>
<text x="477.5" y="110.0" font-size="11" text-anchor="start" font-weight="normal" letter-spacing="0" textLength="22.3" lengthAdjust="spacing">0.08</text>
<text x="81.6" y="139.0" font-size="11" text-anchor="end" font-weight="normal" letter-spacing="0" textLength="22.3" lengthAdjust="spacing">0.60</text>
<text x="477.5" y="139.0" font-size="11" text-anchor="start" font-weight="normal" letter-spacing="0" textLength="22.3" lengthAdjust="spacing">0.06</text>
<text x="81.6" y="168.0" font-size="11" text-anchor="end" font-weight="normal" letter-spacing="0" textLength="22.3" lengthAdjust="spacing">0.40</text>
<text x="477.5" y="168.0" font-size="11" text-anchor="start" font-weight="normal" letter-spacing="0" textLength="22.3" lengthAdjust="spacing">0.04</text>
<text x="81.6" y="197.0" font-size="11" text-anchor="end" font-weight="normal" letter-spacing="0" textLength="22.3" lengthAdjust="spacing">0.20</text>
<text x="477.5" y="197.0" font-size="11" text-anchor="start" font-weight="normal" letter-spacing="0" textLength="22.3" lengthAdjust="spacing">0.02</text>
<text x="79.0" y="226.0" font-size="11" text-anchor="end" font-weight="normal" letter-spacing="0" >0</text>
<text x="477.5" y="226.0" font-size="11" text-anchor="start" font-weight="normal" letter-spacing="0" >0</text>
<text x="0" y="0" font-size="12.5" text-anchor="middle" transform="translate(43.5,147) rotate(-90)">OTC ratio</text>
<text x="0" y="0" font-size="12.5" text-anchor="middle" transform="translate(509.5,147) rotate(90)">ED ratio</text>
<text x="89.0" y="239.8" font-size="11" text-anchor="middle" font-weight="normal" letter-spacing="0" >Aug</text>
<text x="121.4" y="239.8" font-size="11" text-anchor="middle" font-weight="normal" letter-spacing="0" >Sep</text>
<text x="152.8" y="239.8" font-size="11" text-anchor="middle" font-weight="normal" letter-spacing="0" >Oct</text>
<text x="185.3" y="239.8" font-size="11" text-anchor="middle" font-weight="normal" letter-spacing="0" >Nov</text>
<text x="216.7" y="239.8" font-size="11" text-anchor="middle" font-weight="normal" letter-spacing="0" >Dec</text>
<text x="249.1" y="239.8" font-size="11" text-anchor="middle" font-weight="normal" letter-spacing="0" >Jan</text>
<text x="281.6" y="239.8" font-size="11" text-anchor="middle" font-weight="normal" letter-spacing="0" >Feb</text>
<text x="310.9" y="239.8" font-size="11" text-anchor="middle" font-weight="normal" letter-spacing="0" >Mar</text>
<text x="343.3" y="239.8" font-size="11" text-anchor="middle" font-weight="normal" letter-spacing="0" >Apr</text>
<text x="374.7" y="239.8" font-size="11" text-anchor="middle" font-weight="normal" letter-spacing="0" >May</text>
<text x="407.2" y="239.8" font-size="11" text-anchor="middle" font-weight="normal" letter-spacing="0" >Jun</text>
<text x="438.6" y="239.8" font-size="11" text-anchor="middle" font-weight="normal" letter-spacing="0" >Jul</text>
<text x="152.5" y="253.8" font-size="11" text-anchor="middle" font-weight="normal" letter-spacing="0" >2004</text>
<text x="343.0" y="253.8" font-size="11" text-anchor="middle" font-weight="normal" letter-spacing="0" >2005</text>
<text x="126.2" y="94.2" font-size="12.5" text-anchor="start" font-weight="normal" letter-spacing="0" >2004–2005</text>
<text x="84.6" y="275.0" font-size="11" text-anchor="end" font-weight="normal" letter-spacing="0" textLength="22.3" lengthAdjust="spacing">0.10</text>
<text x="477.5" y="275.0" font-size="11" text-anchor="start" font-weight="normal" letter-spacing="0" textLength="22.3" lengthAdjust="spacing">0.10</text>
<text x="84.6" y="300.2" font-size="11" text-anchor="end" font-weight="normal" letter-spacing="0" textLength="22.3" lengthAdjust="spacing">0.80</text>
<text x="477.5" y="300.2" font-size="11" text-anchor="start" font-weight="normal" letter-spacing="0" textLength="22.3" lengthAdjust="spacing">0.08</text>
<text x="84.6" y="325.4" font-size="11" text-anchor="end" font-weight="normal" letter-spacing="0" textLength="22.3" lengthAdjust="spacing">0.60</text>
<text x="477.5" y="325.4" font-size="11" text-anchor="start" font-weight="normal" letter-spacing="0" textLength="22.3" lengthAdjust="spacing">0.06</text>
<text x="84.6" y="350.6" font-size="11" text-anchor="end" font-weight="normal" letter-spacing="0" textLength="22.3" lengthAdjust="spacing">0.40</text>
<text x="477.5" y="350.6" font-size="11" text-anchor="start" font-weight="normal" letter-spacing="0" textLength="22.3" lengthAdjust="spacing">0.04</text>
<text x="84.6" y="375.8" font-size="11" text-anchor="end" font-weight="normal" letter-spacing="0" textLength="22.3" lengthAdjust="spacing">0.20</text>
<text x="477.5" y="375.8" font-size="11" text-anchor="start" font-weight="normal" letter-spacing="0" textLength="22.3" lengthAdjust="spacing">0.02</text>
<text x="83.5" y="401.0" font-size="11" text-anchor="end" font-weight="normal" letter-spacing="0" >0</text>
<text x="477.5" y="401.0" font-size="11" text-anchor="start" font-weight="normal" letter-spacing="0" >0</text>
<text x="0" y="0" font-size="12.5" text-anchor="middle" transform="translate(43.5,343) rotate(-90)">OTC ratio</text>
<text x="0" y="0" font-size="12.5" text-anchor="middle" transform="translate(509.5,343) rotate(90)">ED ratio</text>
<text x="92.0" y="415.6" font-size="11" text-anchor="middle" font-weight="normal" letter-spacing="0" >Aug</text>
<text x="124.1" y="415.6" font-size="11" text-anchor="middle" font-weight="normal" letter-spacing="0" >Sep</text>
<text x="155.2" y="415.6" font-size="11" text-anchor="middle" font-weight="normal" letter-spacing="0" >Oct</text>
<text x="187.3" y="415.6" font-size="11" text-anchor="middle" font-weight="normal" letter-spacing="0" >Nov</text>
<text x="218.3" y="415.6" font-size="11" text-anchor="middle" font-weight="normal" letter-spacing="0" >Dec</text>
<text x="250.4" y="415.6" font-size="11" text-anchor="middle" font-weight="normal" letter-spacing="0" >Jan</text>
<text x="282.5" y="415.6" font-size="11" text-anchor="middle" font-weight="normal" letter-spacing="0" >Feb</text>
<text x="312.6" y="415.6" font-size="11" text-anchor="middle" font-weight="normal" letter-spacing="0" >Mar</text>
<text x="344.7" y="415.6" font-size="11" text-anchor="middle" font-weight="normal" letter-spacing="0" >Apr</text>
<text x="375.7" y="415.6" font-size="11" text-anchor="middle" font-weight="normal" letter-spacing="0" >May</text>
<text x="407.8" y="415.6" font-size="11" text-anchor="middle" font-weight="normal" letter-spacing="0" >Jun</text>
<text x="438.9" y="415.6" font-size="11" text-anchor="middle" font-weight="normal" letter-spacing="0" >Jul</text>
<text x="156.2" y="430.2" font-size="11" text-anchor="middle" font-weight="normal" letter-spacing="0" >2003</text>
<text x="345.7" y="430.2" font-size="11" text-anchor="middle" font-weight="normal" letter-spacing="0" >2004</text>
<text x="131" y="288.2" font-size="12.5" text-anchor="start" font-weight="normal" letter-spacing="0" >2003–2004</text>
<text x="82.6" y="466.0" font-size="11" text-anchor="end" font-weight="normal" letter-spacing="0" textLength="22.3" lengthAdjust="spacing">0.10</text>
<text x="477.5" y="466.0" font-size="11" text-anchor="start" font-weight="normal" letter-spacing="0" textLength="22.3" lengthAdjust="spacing">0.10</text>
<text x="82.6" y="495.6" font-size="11" text-anchor="end" font-weight="normal" letter-spacing="0" textLength="22.3" lengthAdjust="spacing">0.80</text>
<text x="477.5" y="495.6" font-size="11" text-anchor="start" font-weight="normal" letter-spacing="0" textLength="22.3" lengthAdjust="spacing">0.08</text>
<text x="82.6" y="525.2" font-size="11" text-anchor="end" font-weight="normal" letter-spacing="0" textLength="22.3" lengthAdjust="spacing">0.60</text>
<text x="477.5" y="525.2" font-size="11" text-anchor="start" font-weight="normal" letter-spacing="0" textLength="22.3" lengthAdjust="spacing">0.06</text>
<text x="82.6" y="554.8" font-size="11" text-anchor="end" font-weight="normal" letter-spacing="0" textLength="22.3" lengthAdjust="spacing">0.40</text>
<text x="477.5" y="554.8" font-size="11" text-anchor="start" font-weight="normal" letter-spacing="0" textLength="22.3" lengthAdjust="spacing">0.04</text>
<text x="82.6" y="584.4" font-size="11" text-anchor="end" font-weight="normal" letter-spacing="0" textLength="22.3" lengthAdjust="spacing">0.20</text>
<text x="477.5" y="584.4" font-size="11" text-anchor="start" font-weight="normal" letter-spacing="0" textLength="22.3" lengthAdjust="spacing">0.02</text>
<text x="79.7" y="614.0" font-size="11" text-anchor="end" font-weight="normal" letter-spacing="0" >0</text>
<text x="477.5" y="614.0" font-size="11" text-anchor="start" font-weight="normal" letter-spacing="0" >0</text>
<text x="0" y="0" font-size="12.5" text-anchor="middle" transform="translate(43.5,540.5) rotate(-90)">OTC ratio</text>
<text x="0" y="0" font-size="12.5" text-anchor="middle" transform="translate(509.5,540.5) rotate(90)">ED ratio</text>
<text x="90.0" y="629.5" font-size="11" text-anchor="middle" font-weight="normal" letter-spacing="0" >Aug</text>
<text x="122.4" y="629.5" font-size="11" text-anchor="middle" font-weight="normal" letter-spacing="0" >Sep</text>
<text x="153.7" y="629.5" font-size="11" text-anchor="middle" font-weight="normal" letter-spacing="0" >Oct</text>
<text x="186.0" y="629.5" font-size="11" text-anchor="middle" font-weight="normal" letter-spacing="0" >Nov</text>
<text x="217.3" y="629.5" font-size="11" text-anchor="middle" font-weight="normal" letter-spacing="0" >Dec</text>
<text x="249.7" y="629.5" font-size="11" text-anchor="middle" font-weight="normal" letter-spacing="0" >Jan</text>
<text x="282.1" y="629.5" font-size="11" text-anchor="middle" font-weight="normal" letter-spacing="0" >Feb</text>
<text x="311.3" y="629.5" font-size="11" text-anchor="middle" font-weight="normal" letter-spacing="0" >Mar</text>
<text x="343.7" y="629.5" font-size="11" text-anchor="middle" font-weight="normal" letter-spacing="0" >Apr</text>
<text x="375.0" y="629.5" font-size="11" text-anchor="middle" font-weight="normal" letter-spacing="0" >May</text>
<text x="407.3" y="629.5" font-size="11" text-anchor="middle" font-weight="normal" letter-spacing="0" >Jun</text>
<text x="438.6" y="629.5" font-size="11" text-anchor="middle" font-weight="normal" letter-spacing="0" >Jul</text>
<text x="155.9" y="642.4" font-size="11" text-anchor="middle" font-weight="normal" letter-spacing="0" >2002</text>
<text x="345.9" y="642.4" font-size="11" text-anchor="middle" font-weight="normal" letter-spacing="0" >2003</text>
<text x="126.2" y="479.2" font-size="12.5" text-anchor="start" font-weight="normal" letter-spacing="0" >2002–2003</text>
<text x="351.2" y="93" font-size="12.5" text-anchor="start" font-weight="normal" letter-spacing="0" >Adjusted OTC ratio</text>
<text x="351.2" y="108.7" font-size="12.5" text-anchor="start" font-weight="normal" letter-spacing="0" >Adjusted ED ratio</text>
<text x="351.2" y="124.5" font-size="12.5" text-anchor="start" font-weight="normal" letter-spacing="0" >ED signal</text>
<text x="351.2" y="140.5" font-size="12.5" text-anchor="start" font-weight="normal" letter-spacing="0" >OTC signal</text>
<text x="241.7" y="673" font-size="12.5" text-anchor="start" font-weight="normal" letter-spacing="0" >Month and year</text>
<text x="10" y="697" font-size="9" text-anchor="start" font-weight="normal" letter-spacing="0" >*</text>
<text x="16.2" y="697.5" font-size="11.5" text-anchor="start" font-weight="normal" letter-spacing="0" textLength="500.4" lengthAdjust="spacing">The OTC ratio is adjusted for day of week and major national winter holidays and the day after</text>
<text x="16.2" y="710.7" font-size="11.5" text-anchor="start" font-weight="normal" letter-spacing="0" textLength="500.4" lengthAdjust="spacing">these holidays (Thanksgiving, Christmas, New Years, and Martin Luther King observance day). The</text>
<text x="16.2" y="723.7" font-size="11.5" text-anchor="start" font-weight="normal" letter-spacing="0" textLength="288.8" lengthAdjust="spacing">emergency department ratio is adjusted for day of week.</text>
</svg>
</body></html>
